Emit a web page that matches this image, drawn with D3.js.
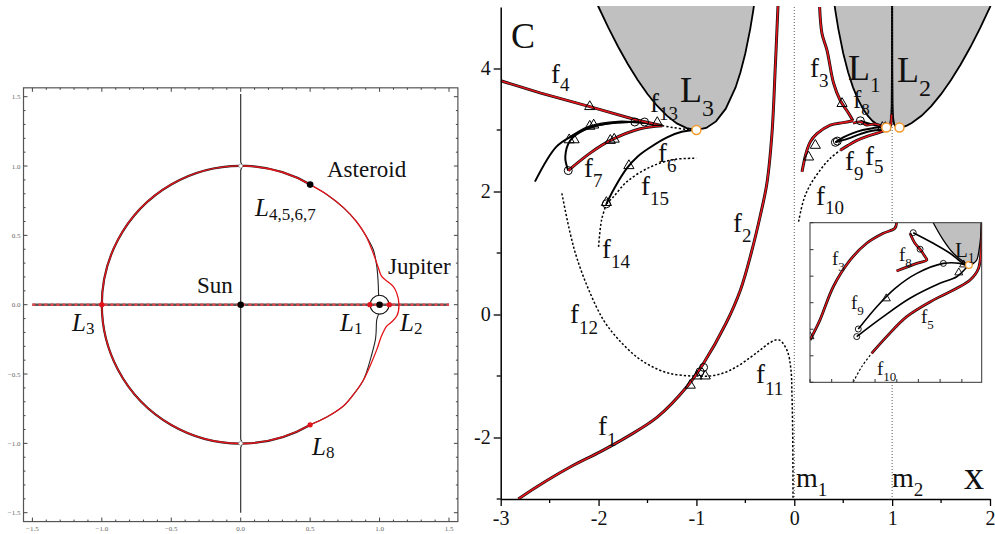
<!DOCTYPE html>
<html>
<head>
<meta charset="utf-8">
<script src="https://cdn.jsdelivr.net/npm/d3@7"></script>
<style>
body { margin: 0; background: #fff; }
text { font-family: "Liberation Serif", "Times New Roman", serif; fill: #111; }
</style>
</head>
<body>
<div id="chart"></div>
<script>
// ---------- LEFT PANEL DATA (orbit plane, Sun at 0, Jupiter at 1) ----------
var leftTicks = [-1.5, -1.0, -0.5, 0.0, 0.5, 1.0, 1.5];
var orbitArcDeg = [60, 300];            // part of the asteroid orbit drawn as an arc
var orbitRightRed = [[0.5,0.866],[0.62,0.795],[0.74,0.70],[0.833,0.60],[0.90,0.50],[0.955,0.37],[0.99,0.27],[1.015,0.204],[1.06,0.165],[1.098,0.132],[1.125,0.08],[1.14,0],[1.125,-0.08],[1.08,-0.13],[1.05,-0.156],[1.013,-0.228],[0.98,-0.324],[0.93,-0.445],[0.88,-0.55],[0.81,-0.65],[0.737,-0.733],[0.62,-0.81],[0.5,-0.866]];
var orbitRightBlackTop = [[0.5,0.866],[0.62,0.795],[0.74,0.70],[0.833,0.60],[0.90,0.50],[0.955,0.396],[0.98,0.276],[0.99,0.157],[0.993,0.068]];
var orbitRightBlackBot = [[0.993,-0.068],[0.98,-0.108],[0.975,-0.2],[0.97,-0.252],[0.94,-0.373],[0.905,-0.49],[0.88,-0.55],[0.81,-0.65],[0.737,-0.733],[0.62,-0.81],[0.5,-0.866]];
var jupiterRing = [1.0, 0.0, 0.068];
var verticalTrace = [[0,1.52],[0,1.03],[0.012,1.0],[0,0.97],[0,-0.97],[0.012,-1.0],[0,-1.03],[0,-1.5]];
var axisTrace = [[-1.5,0],[1.5,0]];
var bodies = [["Sun",0,0],["Asteroid",0.5,0.866],["Jupiter",1,0]];
var lagrangeRed = [[-1,0],[0.93,0],[1.07,0],[0.5,-0.866]];
var lagrangeGrey = [[0,1],[0,-1]];

// ---------- RIGHT PANEL DATA (Jacobi constant C versus x) ----------
var xTicksR = [-3, -2, -1, 0, 1, 2];
var xMinorR = [-2.5, -1.5, -0.5, 0.5, 1.5];
var yTicksR = [-2, 0, 2, 4];
var yMinorR = [-3, -1, 1, 3];
var masses = [0, 1];

var zvcLeft = [[-2.05,5.18],[-2.0,5.0],[-1.9,4.666],[-1.8,4.354],[-1.7,4.069],[-1.6,3.813],[-1.5,3.586],[-1.4,3.391],[-1.3,3.23],[-1.2,3.108],[-1.1,3.03],[-1.0,3.001],[-0.9,3.033],[-0.8,3.14],[-0.7,3.347],[-0.6,3.692],[-0.55,3.938],[-0.5,4.248],[-0.45,4.645],[-0.42,4.935],[-0.40,5.157]];
var zvcMid = [[0.40,5.158],[0.42,4.936],[0.45,4.645],[0.5,4.249],[0.55,3.939],[0.6,3.694],[0.65,3.501],[0.7,3.349],[0.75,3.233],[0.8,3.146],[0.85,3.085],[0.9,3.048],[0.933,3.04],[0.96,3.051],[0.98,3.097],[0.99,3.196],[0.995,3.396],[0.998,3.996],[0.999,4.996],[1.0,6.0]];
var zvcRight = [[1.0,6.0],[1.001,4.996],[1.002,3.996],[1.005,3.396],[1.01,3.196],[1.02,3.097],[1.04,3.051],[1.07,3.039],[1.1,3.044],[1.15,3.071],[1.2,3.113],[1.3,3.231],[1.4,3.389],[1.5,3.583],[1.6,3.809],[1.7,4.065],[1.8,4.349],[1.9,4.66],[2.0,4.997],[2.05,5.175]];
var lPoints = [["L3",-1.0,3.0],["L1",0.94,3.04],["L2",1.075,3.04]];

var f12red = [[-2.82,-3.0],[-2.63,-2.80],[-2.29,-2.48],[-1.98,-2.23],[-1.71,-1.99],[-1.40,-1.67],[-1.10,-1.18],[-0.93,-0.80],[-0.70,-0.15],[-0.55,0.40],[-0.44,1.0],[-0.35,1.59],[-0.28,2.13],[-0.228,2.94],[-0.194,4.03],[-0.167,5.0],[-0.16,5.3]];
var f11 = [[-1.0,-1.0],[-0.86,-1.0],[-0.72,-0.95],[-0.59,-0.85],[-0.45,-0.70],[-0.35,-0.58],[-0.25,-0.46],[-0.16,-0.41],[-0.075,-0.58],[-0.034,-0.9],[-0.024,-1.28],[-0.017,-1.83],[-0.014,-2.4],[-0.013,-3.0]];
var f12 = [[-2.375,1.97],[-2.29,1.32],[-2.22,0.91],[-2.1,0.4],[-1.95,-0.09],[-1.8,-0.4],[-1.61,-0.69],[-1.45,-0.85],[-1.27,-0.96],[-1.06,-1.0],[-1.0,-1.0]];
var f14 = [[-2.0,1.1],[-1.97,1.53],[-1.92,1.8]];
var f15 = [[-1.92,1.8],[-1.85,1.91],[-1.71,2.16],[-1.47,2.4],[-1.23,2.52],[-1.0,2.54]];
var f6 = [[-1.92,1.8],[-1.84,2.05],[-1.71,2.38],[-1.6,2.57],[-1.47,2.72],[-1.3,2.88],[-1.15,2.97],[-1.0,3.0]];
var f13 = [[-1.35,3.07],[-1.24,3.04],[-1.1,3.01],[-1.0,3.0]];
var f4 = [[-3.0,3.8],[-2.59,3.6],[-2.09,3.38],[-1.63,3.17],[-1.35,3.07]];
var f7red = [[-1.35,3.07],[-1.575,3.02],[-1.88,2.83],[-2.09,2.62],[-2.31,2.34]];
var f7inner = [[-2.31,2.34],[-2.34,2.56],[-2.29,2.83],[-2.15,3.0],[-1.92,3.1],[-1.65,3.13],[-1.35,3.07]];
var f7outer = [[-2.65,2.16],[-2.43,2.73],[-2.25,2.92],[-2.09,3.04],[-1.81,3.12],[-1.55,3.12],[-1.35,3.07]];
var f7mid = [[-2.32,2.86],[-2.1,3.06],[-1.8,3.14],[-1.5,3.11],[-1.35,3.07]];
var f3down = [[0.259,5.0],[0.283,4.57],[0.334,4.3],[0.402,3.76],[0.47,3.48],[0.556,3.27],[0.6,3.15]];
var f3back = [[0.6,3.15],[0.5,3.12],[0.368,3.08],[0.232,2.94],[0.164,2.81],[0.12,2.62],[0.079,2.32]];
var f10 = [[0.044,1.51],[0.095,1.86],[0.16,2.10],[0.266,2.35],[0.368,2.54],[0.47,2.67]];
var f5 = [[0.47,2.67],[0.55,2.75],[0.64,2.83],[0.75,2.9],[0.85,2.95],[0.92,2.99],[0.96,3.02],[0.985,3.08],[0.993,3.25]];
var f9upper = [[0.42,2.8],[0.5,2.88],[0.6,2.95],[0.7,3.0],[0.8,3.03],[0.9,3.05],[0.94,3.04]];
var f9lower = [[0.42,2.8],[0.55,2.86],[0.65,2.92],[0.75,2.97],[0.85,3.0],[0.93,3.02]];
var f8black = [[0.675,3.15],[0.75,3.11],[0.85,3.07],[0.94,3.04]];
var f8red = [[0.6,3.11],[0.68,3.13],[0.74,3.08],[0.82,3.1],[0.9,3.06]];

var circMarks = [[-2.31,2.34],[-1.63,3.13],[-1.53,3.13],[-1.92,1.8],[-0.963,-0.93],[-0.927,-0.86],[0.675,3.15],[0.42,2.8],[0.44,2.82]];
var triMarks = [[-2.09,3.38],[-1.4,3.12],[-2.3,2.84],[-2.25,2.84],[-2.09,3.06],[-2.05,3.08],[-1.88,2.83],[-1.84,2.85],[-1.92,1.82],[-1.69,2.42],[-1.063,-1.15],[-0.995,-1.0],[-0.91,-1.0],[0.488,3.43],[0.215,2.75],[0.146,2.56],[0.9,3.04],[0.93,3.04]];

// inset (zoom on L1 region)
var insetX = [0.1, 1.0];
var insetC = [2.45, 3.25];
var insetXTicks = [0.1, 0.2137, 0.327, 0.441, 0.555, 0.668, 0.782, 0.896];
var insetCTicks = [2.45, 2.583, 2.716, 2.849, 2.982, 3.115, 3.25];
var insZvc = [[0.72,3.3],[0.746,3.25],[0.799,3.163],[0.851,3.097],[0.903,3.055],[0.933,3.038],[0.955,3.045],[0.974,3.063],[0.991,3.147],[1.0,3.25],[1.005,3.3]];
var insF3 = [[0.1,2.662],[0.152,2.762],[0.222,2.929],[0.31,3.062],[0.397,3.147],[0.484,3.197],[0.545,3.222],[0.554,3.25]];
var insF8red = [[0.624,3.197],[0.650,3.147],[0.677,3.117],[0.703,3.080],[0.712,3.063],[0.659,3.046],[0.554,3.008]];
var insF8black = [[0.641,3.2],[0.746,3.147],[0.834,3.097],[0.903,3.046],[0.933,3.038]];
var insF9a = [[0.353,2.717],[0.45,2.829],[0.546,2.921],[0.66,2.996],[0.799,3.046],[0.886,3.046],[0.92,3.035]];
var insF9b = [[0.345,2.679],[0.484,2.779],[0.624,2.871],[0.781,2.946],[0.869,2.979],[0.92,3.025]];
var insF5 = [[0.423,2.595],[0.502,2.679],[0.607,2.779],[0.746,2.862],[0.869,2.921],[0.939,2.963],[0.983,3.021],[0.998,3.147],[1.0,3.3]];
var insF10 = [[0.327,2.452],[0.371,2.528],[0.423,2.595]];
var insCirc = [[0.641,3.2],[0.677,3.117],[0.353,2.717],[0.345,2.679],[0.799,3.046]];
var insTri = [[0.1,2.68],[0.5,2.87],[0.88,3.0],[0.905,3.04]];
var insL1 = [0.933, 3.038];

// ---------- SETUP ----------
var RED = "#e3141b";
var ORANGE = "#f39a2c";
var svg = d3.select("#chart").append("svg")
    .attr("width", 995).attr("height", 534)
    .style("background", "#fff");

function lineGen(xs, ys, curve) {
    return d3.line()
        .x(function(d) { return xs(d[0]); })
        .y(function(d) { return ys(d[1]); })
        .curve(curve || d3.curveCatmullRom.alpha(0.5));
}
function redCurve(g, data, gen, w) {
    g.append("path").attr("d", gen(data)).attr("fill", "none")
        .attr("stroke", "#111").attr("stroke-width", (w || 1.6) + 1.4);
    g.append("path").attr("d", gen(data)).attr("fill", "none")
        .attr("stroke", RED).attr("stroke-width", w || 1.6);
}
function blackCurve(g, data, gen, w) {
    g.append("path").attr("d", gen(data)).attr("fill", "none")
        .attr("stroke", "#000").attr("stroke-width", w || 2);
}
function dotCurve(g, data, gen, w) {
    g.append("path").attr("d", gen(data)).attr("fill", "none")
        .attr("stroke", "#000").attr("stroke-width", w || 1.5)
        .attr("stroke-dasharray", "2.2,2");
}
// label with subscript
function label(g, x, y, main, sub, size, subSize, dy, italic) {
    var t = g.append("text").attr("x", x).attr("y", y).attr("font-size", size);
    t.append("tspan").text(main).attr("font-style", italic ? "italic" : "normal");
    if (sub) {
        t.append("tspan").attr("dy", dy).attr("font-size", subSize).text(sub);
    }
    return t;
}

// ---------- LEFT PANEL ----------
var xL = d3.scaleLinear().domain([-1.5, 1.5]).range([32.4, 449]);
var yL = d3.scaleLinear().domain([-1.5, 1.5]).range([512.7, 96.7]);
var frame = 1.564;
var gL = svg.append("g");

gL.append("rect")
    .attr("x", xL(-frame)).attr("y", yL(frame))
    .attr("width", xL(frame) - xL(-frame)).attr("height", yL(-frame) - yL(frame))
    .attr("fill", "none").attr("stroke", "#555").attr("stroke-width", 1.2);

// minor/major ticks on all four sides, inward
var minorL = d3.range(-15, 16).map(function(i) { return i / 10; });
minorL.forEach(function(v) {
    var major = Math.abs(v * 2 - Math.round(v * 2)) < 1e-6;
    var len = major ? 4 : 2;
    gL.append("line").attr("x1", xL(-frame)).attr("x2", xL(-frame) + len)
        .attr("y1", yL(v)).attr("y2", yL(v)).attr("stroke", "#444");
    gL.append("line").attr("x1", xL(frame)).attr("x2", xL(frame) - len)
        .attr("y1", yL(v)).attr("y2", yL(v)).attr("stroke", "#444");
    gL.append("line").attr("y1", yL(-frame)).attr("y2", yL(-frame) - len)
        .attr("x1", xL(v)).attr("x2", xL(v)).attr("stroke", "#444");
    gL.append("line").attr("y1", yL(frame)).attr("y2", yL(frame) + len)
        .attr("x1", xL(v)).attr("x2", xL(v)).attr("stroke", "#444");
});
var fmt = d3.format(".1f");
leftTicks.forEach(function(v) {
    gL.append("text").attr("x", xL(-frame) - 3).attr("y", yL(v) + 2.5)
        .attr("text-anchor", "end").attr("font-size", 7).style("fill", "#666").text(fmt(v));
    gL.append("text").attr("x", xL(v)).attr("y", yL(-frame) + 9)
        .attr("text-anchor", "middle").attr("font-size", 7).style("fill", "#666").text(fmt(v));
});

var glL = lineGen(xL, yL);
var glLin = lineGen(xL, yL, d3.curveLinear);

// horizontal dashed line through the primaries
gL.append("path").attr("d", glLin(axisTrace)).attr("stroke", "#555").attr("stroke-width", 2.6).attr("fill", "none");
gL.append("path").attr("d", glLin(axisTrace)).attr("stroke", "#e0484c").attr("stroke-width", 2.6)
    .attr("stroke-dasharray", "3,3").attr("fill", "none");
// vertical trace
gL.append("path").attr("d", glLin(verticalTrace)).attr("stroke", "#222").attr("stroke-width", 1.1).attr("fill", "none");

// orbit arc (left part)
var cx = xL(0), cy = yL(0), rr = xL(1) - xL(0);
var arcP = d3.path();
arcP.arc(cx, cy, rr, -orbitArcDeg[0] * Math.PI / 180, -orbitArcDeg[1] * Math.PI / 180, true);
gL.append("path").attr("d", arcP.toString()).attr("fill", "none").attr("stroke", "#222").attr("stroke-width", 2.2);
gL.append("path").attr("d", arcP.toString()).attr("fill", "none").attr("stroke", RED).attr("stroke-width", 1.4);
// right part near Jupiter
gL.append("path").attr("d", glL(orbitRightBlackTop)).attr("fill", "none").attr("stroke", "#222").attr("stroke-width", 1.1);
gL.append("path").attr("d", glL(orbitRightBlackBot)).attr("fill", "none").attr("stroke", "#222").attr("stroke-width", 1.1);
gL.append("path").attr("d", glL(orbitRightRed)).attr("fill", "none").attr("stroke", RED).attr("stroke-width", 1.3);
gL.append("circle").attr("cx", xL(jupiterRing[0])).attr("cy", yL(jupiterRing[1]))
    .attr("r", xL(jupiterRing[2]) - xL(0)).attr("fill", "none").attr("stroke", "#111").attr("stroke-width", 1.1);

lagrangeGrey.forEach(function(p) {
    gL.append("circle").attr("cx", xL(p[0])).attr("cy", yL(p[1])).attr("r", 2)
        .attr("fill", "#fff").attr("stroke", "#999").attr("stroke-width", 0.8);
});
lagrangeRed.forEach(function(p) {
    gL.append("circle").attr("cx", xL(p[0])).attr("cy", yL(p[1])).attr("r", 2.6).attr("fill", RED);
});
bodies.forEach(function(b) {
    gL.append("circle").attr("cx", xL(b[1])).attr("cy", yL(b[2])).attr("r", 3.3).attr("fill", "#000");
});

gL.append("text").attr("x", 197).attr("y", 293).attr("font-size", 23).text("Sun");
gL.append("text").attr("x", 327).attr("y", 177).attr("font-size", 23).text("Asteroid");
gL.append("text").attr("x", 388).attr("y", 274).attr("font-size", 23).text("Jupiter");
label(gL, 255, 216, "L", "4,5,6,7", 25, 17, 4, true);
label(gL, 72, 331, "L", "3", 25, 17, 3, true);
label(gL, 340, 331, "L", "1", 25, 17, 3, true);
label(gL, 400, 331, "L", "2", 25, 17, 3, true);
label(gL, 312, 455, "L", "8", 25, 17, 3, true);

// ---------- RIGHT PANEL ----------
var xR = d3.scaleLinear().domain([-3, 2]).range([500.7, 990]);
var yR = d3.scaleLinear().domain([-3, 5]).range([499, 7]);
var gR = svg.append("g");
svg.append("defs").append("clipPath").attr("id", "clipR")
    .append("rect").attr("x", 500.7).attr("y", 6).attr("width", 491).attr("height", 493);
var plot = gR.append("g").attr("clip-path", "url(#clipR)");

var glR = lineGen(xR, yR);
var glRlin = lineGen(xR, yR, d3.curveLinear);

// forbidden regions
function zvcArea(data) {
    return d3.area().x(function(d) { return xR(d[0]); })
        .y0(yR(6)).y1(function(d) { return yR(d[1]); })
        .curve(d3.curveLinear)(data);
}
[zvcLeft, zvcMid, zvcRight].forEach(function(z) {
    plot.append("path").attr("d", zvcArea(z)).attr("fill", "#c0c0c0");
    plot.append("path").attr("d", glRlin(z)).attr("fill", "none").attr("stroke", "#000").attr("stroke-width", 1.8);
});

// primaries
masses.forEach(function(m) {
    plot.append("line").attr("x1", xR(m)).attr("x2", xR(m)).attr("y1", yR(5)).attr("y2", yR(-3))
        .attr("stroke", "#333").attr("stroke-width", 0.8).attr("stroke-dasharray", "1,2");
});

// families
dotCurve(plot, f12, glR);
dotCurve(plot, f11, glR);
dotCurve(plot, f14, glR);
dotCurve(plot, f15, glR);
dotCurve(plot, f13, glR);
dotCurve(plot, f10, glR);
blackCurve(plot, f6, glR);
blackCurve(plot, f7outer, glR);
blackCurve(plot, f7inner, glR);
blackCurve(plot, f7mid, glR, 1.4);
blackCurve(plot, f9upper, glR);
blackCurve(plot, f9lower, glR);
blackCurve(plot, f8black, glR);
redCurve(plot, f12red, glR);
redCurve(plot, f4, glRlin);
redCurve(plot, f7red, glR);
redCurve(plot, f3down, glR);
redCurve(plot, f3back, glR);
redCurve(plot, f5, glR);
redCurve(plot, f8red, glR, 1.3);

var tri = d3.symbol().type(d3.symbolTriangle).size(45);
triMarks.forEach(function(p) {
    plot.append("path").attr("d", tri).attr("transform", "translate(" + xR(p[0]) + "," + yR(p[1]) + ")")
        .attr("fill", "none").attr("stroke", "#000").attr("stroke-width", 1);
});
circMarks.forEach(function(p) {
    plot.append("circle").attr("cx", xR(p[0])).attr("cy", yR(p[1])).attr("r", 4)
        .attr("fill", "none").attr("stroke", "#000").attr("stroke-width", 1);
});
lPoints.forEach(function(p) {
    plot.append("circle").attr("cx", xR(p[1])).attr("cy", yR(p[2])).attr("r", 4.5)
        .attr("fill", "#fff").attr("stroke", ORANGE).attr("stroke-width", 1.5);
});

// labels
label(gR, 511, 48, "C", null, 36);
label(gR, 551, 83, "f", "4", 27, 19, 8);
label(gR, 650, 112, "f", "13", 27, 19, 8);
label(gR, 680, 102, "L", "3", 36, 24, 14);
label(gR, 584, 177, "f", "7", 27, 19, 10);
label(gR, 658, 162, "f", "6", 27, 19, 10);
label(gR, 641, 195, "f", "15", 27, 19, 10);
label(gR, 602, 258, "f", "14", 27, 19, 10);
label(gR, 570, 323, "f", "12", 27, 19, 11);
label(gR, 598, 435, "f", "1", 27, 19, 11);
label(gR, 756, 383, "f", "11", 27, 19, 12);
label(gR, 733, 232, "f", "2", 27, 19, 10);
label(gR, 810, 77, "f", "3", 27, 19, 10);
label(gR, 848, 80, "L", "1", 36, 21, 12);
label(gR, 897, 82, "L", "2", 36, 24, 14);
label(gR, 853, 108, "f", "8", 25, 17, 7);
label(gR, 845, 170, "f", "9", 27, 19, 10);
label(gR, 865, 165, "f", "5", 27, 19, 8);
label(gR, 816, 205, "f", "10", 27, 19, 9);
label(gR, 796, 487, "m", "1", 28, 19, 9);
label(gR, 892, 487, "m", "2", 28, 19, 9);
gR.append("text").attr("x", 964).attr("y", 489).attr("font-size", 40).text("x");

// axes
var xAxis = d3.axisBottom(xR).tickValues(xTicksR).tickSizeInner(7).tickSizeOuter(0).tickPadding(5)
    .tickFormat(function(d) { return d < 0 ? "-" + (-d) : d; });
var gx = gR.append("g").attr("transform", "translate(0," + yR(-3) + ")").call(xAxis);
gx.selectAll("text").attr("font-size", 20).style("font-family", "Liberation Serif");
gx.select(".domain").attr("stroke-width", 1.5);
gx.selectAll(".tick line").attr("stroke-width", 1.3);
xMinorR.forEach(function(v) {
    gx.append("line").attr("x1", xR(v)).attr("x2", xR(v)).attr("y1", 0).attr("y2", 4).attr("stroke", "#000").attr("stroke-width", 1.3);
});
var yAxis = d3.axisLeft(yR).tickValues(yTicksR).tickSizeInner(7).tickSizeOuter(0).tickPadding(3)
    .tickFormat(function(d) { return d < 0 ? "-" + (-d) : d; });
var gy = gR.append("g").attr("transform", "translate(" + xR(-3) + ",0)").call(yAxis);
gy.selectAll("text").attr("font-size", 20).style("font-family", "Liberation Serif");
gy.select(".domain").attr("stroke-width", 1.5);
gy.selectAll(".tick line").attr("stroke-width", 1.3);
yMinorR.forEach(function(v) {
    gy.append("line").attr("x1", 0).attr("x2", -4).attr("y1", yR(v)).attr("y2", yR(v)).attr("stroke", "#000").attr("stroke-width", 1.3);
});

// ---------- INSET ----------
var xI = d3.scaleLinear().domain(insetX).range([810, 981.7]);
var yI = d3.scaleLinear().domain(insetC).range([382.3, 222.7]);
var gI = svg.append("g");
gI.append("rect").attr("x", 810).attr("y", 222.7).attr("width", 171.7).attr("height", 159.6)
    .attr("fill", "#fff");
svg.select("defs").append("clipPath").attr("id", "clipI")
    .append("rect").attr("x", 810).attr("y", 222.7).attr("width", 171.7).attr("height", 159.6);
var pI = gI.append("g").attr("clip-path", "url(#clipI)");
var glI = lineGen(xI, yI);
pI.append("path").attr("d", d3.area().x(function(d) { return xI(d[0]); })
    .y0(yI(3.4)).y1(function(d) { return yI(d[1]); }).curve(d3.curveCatmullRom)(insZvc))
    .attr("fill", "#c0c0c0");
pI.append("path").attr("d", glI(insZvc)).attr("fill", "none").attr("stroke", "#000").attr("stroke-width", 1.3);
dotCurve(pI, insF10, glI, 1.2);
blackCurve(pI, insF8black, glI, 1.6);
blackCurve(pI, insF9a, glI, 1.6);
blackCurve(pI, insF9b, glI, 1.6);
redCurve(pI, insF3, glI, 1.4);
redCurve(pI, insF8red, glI, 1.4);
redCurve(pI, insF5, glI, 1.4);
insTri.forEach(function(p) {
    pI.append("path").attr("d", d3.symbol().type(d3.symbolTriangle).size(28))
        .attr("transform", "translate(" + xI(p[0]) + "," + yI(p[1]) + ")")
        .attr("fill", "none").attr("stroke", "#000").attr("stroke-width", 0.9);
});
insCirc.forEach(function(p) {
    pI.append("circle").attr("cx", xI(p[0])).attr("cy", yI(p[1])).attr("r", 3)
        .attr("fill", "none").attr("stroke", "#000").attr("stroke-width", 0.9);
});
pI.append("circle").attr("cx", xI(insL1[0])).attr("cy", yI(insL1[1])).attr("r", 3.3)
    .attr("fill", "#fff").attr("stroke", ORANGE).attr("stroke-width", 1.2);
gI.append("rect").attr("x", 810).attr("y", 222.7).attr("width", 171.7).attr("height", 159.6)
    .attr("fill", "none").attr("stroke", "#333").attr("stroke-width", 1);
insetXTicks.forEach(function(v) {
    gI.append("line").attr("x1", xI(v)).attr("x2", xI(v)).attr("y1", 382.3).attr("y2", 379)
        .attr("stroke", "#333");
});
insetCTicks.forEach(function(v) {
    gI.append("line").attr("x1", 810).attr("x2", 813.5).attr("y1", yI(v)).attr("y2", yI(v))
        .attr("stroke", "#333");
});
label(gI, 832, 265, "f", "3", 19, 13, 6);
label(gI, 899, 261, "f", "8", 19, 13, 6);
label(gI, 955, 257, "L", "1", 21, 14, 6);
label(gI, 851, 309, "f", "9", 19, 13, 6);
label(gI, 921, 323, "f", "5", 19, 13, 6);
label(gI, 877, 375, "f", "10", 19, 13, 6);
</script>
</body>
</html>
